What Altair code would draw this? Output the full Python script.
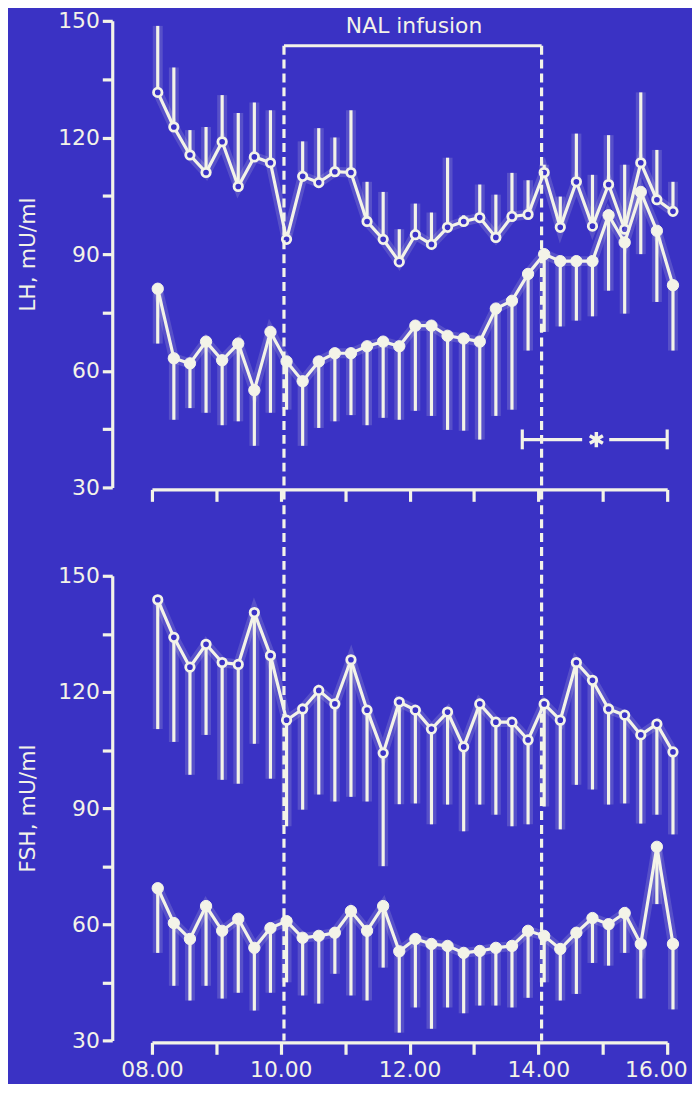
import json
import altair as alt
import pandas as pd

# ------------------------------------------------------------------ data
# sampling every 15 min (hours as decimals)
sample_start = 8.09
sample_step = 0.25
n_samples = 33
times = [round(sample_start + sample_step * i, 3) for i in range(n_samples)]

# LH, upper series (open circles, SEM bars upward)
lh_open = [131.6, 122.7, 115.5, 111.0, 118.9, 107.4, 115.0, 113.5, 93.8, 110.0,
           108.4, 111.2, 111.0, 98.4, 93.8, 88.0, 95.0, 92.5, 96.9, 98.4,
           99.4, 94.3, 99.7, 100.2, 111.0, 96.9, 108.6, 97.2, 107.9, 96.4,
           113.5, 104.0, 101.0]
lh_open_err = [148.7, 138.0, 121.9, 122.7, 130.9, 126.3, 129.0, 127.0, 95.5, 119.0,
               122.4, 120.0, 127.0, 108.6, 106.0, 96.4, 103.0, 100.7, 114.8, 100.0,
               107.9, 105.3, 110.9, 109.0, 113.0, 104.8, 121.0, 110.4, 120.6, 113.0,
               131.6, 116.8, 108.6]
# LH, lower series (filled circles, SEM bars downward)
lh_filled = [81.1, 63.2, 61.9, 67.5, 62.7, 67.0, 55.0, 70.0, 62.4, 57.3,
             62.4, 64.5, 64.5, 66.3, 67.5, 66.3, 71.6, 71.6, 69.0, 68.3,
             67.5, 76.0, 78.0, 84.9, 90.0, 88.2, 88.2, 88.2, 100.0, 93.0,
             106.0, 96.0, 82.0]
lh_filled_err = [67.0, 47.4, 50.4, 49.2, 46.0, 47.0, 40.7, 49.2, 50.0, 40.7,
                 45.3, 47.0, 48.6, 46.0, 47.9, 47.4, 49.7, 48.4, 44.8, 44.6,
                 42.3, 48.4, 50.0, 65.2, 70.0, 71.4, 72.9, 74.0, 80.6, 74.7,
                 90.0, 77.7, 65.2]
# FSH, upper series (open circles, SEM bars downward)
fsh_open = [143.8, 134.1, 126.4, 132.3, 127.6, 127.1, 140.5, 129.4, 112.7, 115.6,
            120.4, 116.9, 128.3, 115.3, 104.2, 117.4, 115.3, 110.4, 114.8, 105.8,
            116.9, 112.2, 112.2, 107.6, 116.9, 112.7, 127.6, 123.0, 115.6, 114.0,
            108.9, 111.7, 104.5]
fsh_open_err = [110.4, 107.1, 98.6, 108.9, 97.3, 96.3, 106.6, 97.6, 85.3, 89.6,
                93.5, 91.7, 92.9, 91.7, 75.0, 91.0, 91.2, 85.8, 90.9, 84.0,
                90.9, 88.3, 85.3, 85.8, 90.4, 84.5, 96.0, 94.8, 90.9, 91.2,
                86.0, 88.3, 83.2]
# FSH, lower series (filled circles, SEM bars downward)
fsh_filled = [69.3, 60.3, 56.2, 64.7, 58.3, 61.4, 53.9, 59.0, 60.8, 56.5,
              57.0, 57.8, 63.4, 58.3, 64.7, 53.0, 56.2, 54.9, 54.4, 52.6,
              53.1, 53.9, 54.4, 58.3, 57.0, 53.6, 57.8, 61.6, 60.0, 62.9,
              54.9, 80.0, 54.9]
fsh_filled_err = [52.6, 44.1, 40.3, 44.1, 40.8, 42.3, 37.7, 42.3, 45.0, 41.6,
                  39.5, 47.2, 41.6, 40.3, 48.8, 32.0, 38.5, 33.0, 38.5, 37.0,
                  39.0, 39.0, 38.5, 41.0, 45.0, 40.3, 42.0, 50.0, 49.3, 52.6,
                  40.8, 65.2, 38.0]

# annotations
infusion_times = [10.05, 14.05]
infusion_level = 143.6
infusion_label = "NAL infusion"
infusion_label_t = 12.07
infusion_label_v = 148.6
signif_segments_start = [13.75, 15.10]
signif_segments_end = [14.68, 16.0]
signif_caps_t = [13.75, 16.0]
signif_level = 42.3
signif_cap_low = 39.8
signif_cap_high = 44.9
signif_star_t = 14.9

# axes
hour_ticks = [8, 9, 10, 11, 12, 13, 14, 15, 16]
hour_labels = ["08.00", "", "10.00", "", "12.00", "", "14.00", "", "16.00"]
conc_ticks = [30, 45, 60, 75, 90, 105, 120, 135, 150]
conc_labels = ["30", "", "60", "", "90", "", "120", "", "150"]
lh_title = "LH, mU/ml"
fsh_title = "FSH, mU/ml"

# ------------------------------------------------------------------ style
BG = "#3a32c4"
FG = "#f3f3e8"
FONT = "DejaVu Sans"
FS = 22
W = 519
H_TOP = 470
H_BOT = 468
X_OFF = 2
TICK_X = 12
RISE = 71          # how far the bottom panel's dashed guides reach upward (px)
LW = 3.2
GLOW_W = 10
GLOW_OP = 0.16

x_label_expr = f"{json.dumps(hour_labels)}[indexof({json.dumps(hour_ticks)}, datum.value)]"
y_label_expr = f"{json.dumps(conc_labels)}[indexof({json.dumps(conc_ticks)}, datum.value)]"
last_tick_test = f"datum.value == {hour_ticks[-1]}"

x_scale = alt.Scale(domain=[8, 16], nice=False, zero=False)
y_scale = alt.Scale(domain=[30, 150], nice=False, zero=False)

STAR = "M0,-1L0,1M-0.87,-0.5L0.87,0.5M-0.87,0.5L0.87,-0.5"


def make_axes(ytitle, show_x_labels):
    xax = alt.Axis(
        values=hour_ticks, labels=show_x_labels, labelExpr=x_label_expr,
        title=None, grid=False, offset=X_OFF, tickSize=TICK_X, tickWidth=LW,
        domainWidth=LW, domainColor=FG, tickColor=FG, labelColor=FG,
        labelFont=FONT, labelFontSize=FS, labelPadding=5, labelFlush=False,
        labelOverlap=False,
        labelAlign={"condition": {"test": last_tick_test, "value": "right"}, "value": "center"},
        labelOffset={"condition": {"test": last_tick_test, "value": 20}, "value": 0},
    )
    yax = alt.Axis(
        values=conc_ticks, labelExpr=y_label_expr, title=ytitle, grid=False,
        offset=40, tickSize=10, tickWidth=LW, domainWidth=LW, domainColor=FG,
        tickColor=FG, labelColor=FG, labelFont=FONT, labelFontSize=FS,
        labelPadding=3, labelOverlap=False, labelFlush=False,
        titleFont=FONT, titleFontSize=FS, titleFontWeight="normal",
        titleColor=FG, titlePadding=18,
    )
    X = alt.X("t:Q", scale=x_scale, axis=xax, title=None)
    Y = alt.Y("v:Q", scale=y_scale, axis=yax, title=ytitle)
    return X, Y


def series_layers(X, Y, vals, errs, filled):
    d = pd.DataFrame({"t": times, "v": vals, "e": errs})
    base = alt.Chart(d)
    layers = [
        base.mark_rule(color=FG, strokeWidth=GLOW_W, opacity=GLOW_OP).encode(x=X, y=Y, y2="e:Q"),
        base.mark_line(color=FG, strokeWidth=GLOW_W, opacity=GLOW_OP).encode(x=X, y=Y),
        base.mark_rule(color=FG, strokeWidth=LW).encode(x=X, y=Y, y2="e:Q"),
        base.mark_line(color=FG, strokeWidth=LW).encode(x=X, y=Y),
    ]
    if filled:
        layers.append(base.mark_point(shape="circle", filled=True, fill=FG, stroke=FG,
                                      strokeWidth=1, size=130, opacity=1).encode(x=X, y=Y))
    else:
        layers.append(base.mark_point(shape="circle", filled=False, fill=BG, fillOpacity=1,
                                      stroke=FG, strokeWidth=2.8, size=72, opacity=1).encode(x=X, y=Y))
    return layers


# ---------------------------------------------------------------- top panel
Xt, Yt = make_axes(lh_title, False)
top_layers = []
top_layers += series_layers(Xt, Yt, lh_open, lh_open_err, filled=False)
top_layers += series_layers(Xt, Yt, lh_filled, lh_filled_err, filled=True)

inf_df = pd.DataFrame({"t": infusion_times, "v": [infusion_level] * len(infusion_times)})
top_layers.append(
    alt.Chart(inf_df).mark_rule(color=FG, strokeWidth=LW, strokeDash=[9, 5]).encode(
        x=Xt, y=Yt, y2=alt.value(H_TOP + X_OFF + TICK_X))
)
bracket_df = pd.DataFrame({"t": [infusion_times[0]], "t2": [infusion_times[1]], "v": [infusion_level]})
top_layers.append(
    alt.Chart(bracket_df).mark_rule(color=FG, strokeWidth=LW).encode(x=Xt, x2="t2:Q", y=Yt)
)
label_df = pd.DataFrame({"t": [infusion_label_t], "v": [infusion_label_v], "txt": [infusion_label]})
top_layers.append(
    alt.Chart(label_df).mark_text(color=FG, font=FONT, fontSize=FS, align="center",
                                  baseline="middle").encode(x=Xt, y=Yt, text="txt:N")
)
sig_df = pd.DataFrame({"t": signif_segments_start, "t2": signif_segments_end,
                       "v": [signif_level] * len(signif_segments_start)})
top_layers.append(
    alt.Chart(sig_df).mark_rule(color=FG, strokeWidth=LW).encode(x=Xt, x2="t2:Q", y=Yt)
)
cap_df = pd.DataFrame({"t": signif_caps_t, "v": [signif_cap_low] * 2, "e": [signif_cap_high] * 2})
top_layers.append(
    alt.Chart(cap_df).mark_rule(color=FG, strokeWidth=LW).encode(x=Xt, y=Yt, y2="e:Q")
)
star_df = pd.DataFrame({"t": [signif_star_t], "v": [signif_level]})
top_layers.append(
    alt.Chart(star_df).mark_point(shape=STAR, filled=False, stroke=FG, strokeWidth=3.5,
                                  size=230, opacity=1).encode(x=Xt, y=Yt)
)
top = alt.layer(*top_layers).properties(width=W, height=H_TOP)

# ------------------------------------------------------------- bottom panel
Xb, Yb = make_axes(fsh_title, True)
bot_layers = []
inf_df_b = pd.DataFrame({"t": infusion_times})
bot_layers.append(
    alt.Chart(inf_df_b).mark_rule(color=FG, strokeWidth=LW, strokeDash=[9, 5]).encode(
        x=Xb, y=alt.value(-RISE), y2=alt.value(H_BOT))
)
bot_layers += series_layers(Xb, Yb, fsh_open, fsh_open_err, filled=False)
bot_layers += series_layers(Xb, Yb, fsh_filled, fsh_filled_err, filled=True)
bottom = alt.layer(*bot_layers).properties(width=W, height=H_BOT)

chart = alt.vconcat(top, bottom, spacing=0).properties(
    background=BG,
    padding={"top": -2, "left": 9, "right": -1, "bottom": 0},
).configure_view(stroke=None).resolve_scale(x="independent", y="independent")

chart.save("out.html", embed_options={"renderer": "svg", "actions": False})
